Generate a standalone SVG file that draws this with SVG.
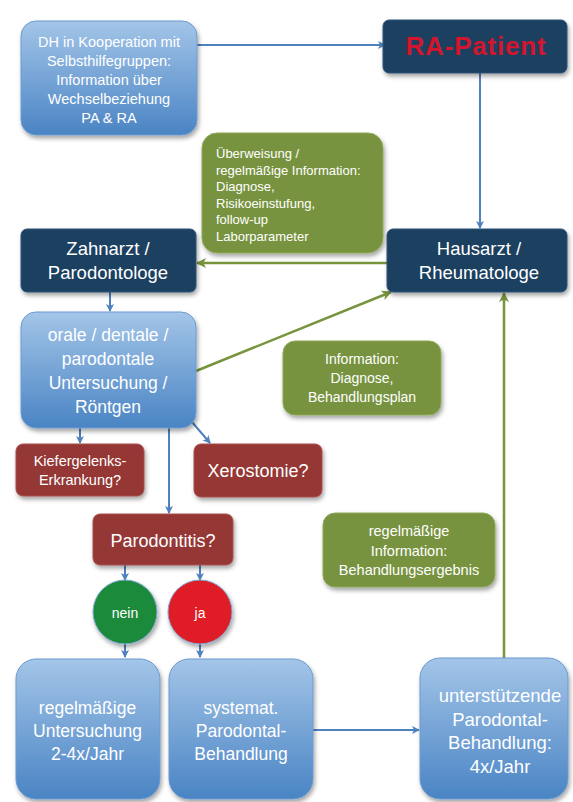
<svg xmlns="http://www.w3.org/2000/svg" width="573" height="802" viewBox="0 0 573 802">
<defs>
<linearGradient id="gBlue" x1="0" y1="0" x2="0" y2="1">
<stop offset="0" stop-color="#A3C5E8"/>
<stop offset="1" stop-color="#4A84C4"/>
</linearGradient>
<filter id="sh" x="-20%" y="-20%" width="140%" height="140%">
<feDropShadow dx="1.5" dy="3" stdDeviation="2" flood-color="#000" flood-opacity="0.35"/>
</filter>
<marker id="mB" markerUnits="userSpaceOnUse" markerWidth="10" markerHeight="10" refX="8" refY="5" orient="auto">
<path d="M1,1 L9,5 L1,9 L3,5 z" fill="#4F81BD"/>
</marker>
<marker id="mG" markerUnits="userSpaceOnUse" markerWidth="12" markerHeight="12" refX="10" refY="6" orient="auto">
<path d="M1,1 L11,6 L1,11 L3.5,6 z" fill="#77933C"/>
</marker>
<style>
.blue{fill:url(#gBlue);stroke:#6C9BD0;stroke-width:1;filter:url(#sh)}
.navy{fill:#1E3F60;stroke:#2F5479;stroke-width:1;filter:url(#sh)}
.red{fill:#953735;stroke:#A85050;stroke-width:1;filter:url(#sh)}
.green{fill:#78933F;stroke:#8FA85A;stroke-width:1;filter:url(#sh)}
text{font-family:"Liberation Sans",Arial,sans-serif;fill:#FFFFFF;text-anchor:middle}
.lb{stroke:#4F81BD;stroke-width:2;fill:none;marker-end:url(#mB)}
.lg{stroke:#77933C;stroke-width:2.5;fill:none;marker-end:url(#mG)}
</style>
</defs>

<g id="connectors">
<line class="lb" x1="197" y1="45" x2="385" y2="45"/>
<line class="lb" x1="480" y1="73" x2="480" y2="228"/>
<line class="lg" x1="387" y1="263" x2="197" y2="263"/>
<line class="lb" x1="110" y1="292" x2="110" y2="311"/>
<line class="lg" x1="196" y1="371" x2="391" y2="292"/>
<line class="lb" x1="80" y1="428" x2="80" y2="443"/>
<line class="lb" x1="192" y1="422" x2="210" y2="443"/>
<line class="lb" x1="169" y1="428" x2="169" y2="513"/>
<line class="lb" x1="125" y1="565" x2="125" y2="580"/>
<line class="lb" x1="200" y1="565" x2="200" y2="580"/>
<line class="lb" x1="125" y1="644" x2="125" y2="657"/>
<line class="lb" x1="200" y1="644" x2="200" y2="657"/>
<line class="lb" x1="313" y1="730" x2="419" y2="730"/>
<line class="lg" x1="504" y1="658" x2="504" y2="293"/>
</g>

<g id="dh-info">
<rect class="blue" x="21" y="21" width="176" height="114" rx="15"/>
<text font-size="14.5" x="109" y="47">DH in Kooperation mit</text>
<text font-size="14.5" x="109" y="66">Selbsthilfegruppen:</text>
<text font-size="14.5" x="109" y="85">Information über</text>
<text font-size="14.5" x="109" y="104">Wechselbeziehung</text>
<text font-size="14.5" x="109" y="123">PA &amp; RA</text>
</g>

<g id="ra-patient">
<rect class="navy" x="383" y="20" width="184" height="53" rx="6"/>
<text x="476" y="55" font-size="26" font-weight="bold" letter-spacing="0.8" style="fill:#D3152D">RA-Patient</text>
</g>

<g id="info-ueberweisung">
<rect class="green" x="202" y="133" width="181" height="120" rx="15"/>
<text font-size="13" x="216" y="158" style="text-anchor:start">Überweisung /</text>
<text font-size="13" x="216" y="175" style="text-anchor:start">regelmäßige Information:</text>
<text font-size="13" x="216" y="191" style="text-anchor:start">Diagnose,</text>
<text font-size="13" x="216" y="208" style="text-anchor:start">Risikoeinstufung,</text>
<text font-size="13" x="216" y="224" style="text-anchor:start">follow-up</text>
<text font-size="13" x="216" y="241" style="text-anchor:start">Laborparameter</text>
</g>

<g id="zahnarzt">
<rect class="navy" x="21" y="229" width="175" height="63" rx="6"/>
<text font-size="18.5" x="108" y="255">Zahnarzt /</text>
<text font-size="18.5" x="108" y="279">Parodontologe</text>
</g>

<g id="hausarzt">
<rect class="navy" x="387" y="229" width="180" height="63" rx="6"/>
<text font-size="18.5" x="479" y="255">Hausarzt /</text>
<text font-size="18.5" x="479" y="279">Rheumatologe</text>
</g>

<g id="untersuchung">
<rect class="blue" x="21" y="312" width="175" height="116" rx="15"/>
<text font-size="17.5" x="108" y="341">orale / dentale /</text>
<text font-size="17.5" x="108" y="365">parodontale</text>
<text font-size="17.5" x="108" y="389">Untersuchung /</text>
<text font-size="17.5" x="108" y="413">Röntgen</text>
</g>

<g id="info-diagnose">
<rect class="green" x="283" y="341" width="158" height="74" rx="12"/>
<text font-size="14" x="362" y="364">Information:</text>
<text font-size="14" x="362" y="383">Diagnose,</text>
<text font-size="14" x="362" y="402">Behandlungsplan</text>
</g>

<g id="kiefergelenk">
<rect class="red" x="16" y="444" width="128" height="52" rx="7"/>
<text font-size="14.5" x="80" y="466">Kiefergelenks-</text>
<text font-size="14.5" x="80" y="485">Erkrankung?</text>
</g>

<g id="xerostomie">
<rect class="red" x="194" y="444" width="128" height="53" rx="7"/>
<text font-size="18" x="258" y="477">Xerostomie?</text>
</g>

<g id="parodontitis">
<rect class="red" x="93" y="514" width="140" height="51" rx="7"/>
<text font-size="18" x="163" y="547">Parodontitis?</text>
</g>

<g id="info-ergebnis">
<rect class="green" x="323" y="513" width="172" height="74" rx="12"/>
<text font-size="14.5" x="409" y="536">regelmäßige</text>
<text font-size="14.5" x="409" y="556">Information:</text>
<text font-size="14.5" x="409" y="575">Behandlungsergebnis</text>
</g>

<g id="nein">
<circle cx="125" cy="612" r="32" fill="#1C8A3B" stroke="#7FA9D6" stroke-width="1" filter="url(#sh)"/>
<text font-size="14" x="125" y="618">nein</text>
</g>

<g id="ja">
<circle cx="200" cy="612" r="32" fill="#E01C25" stroke="#7FA9D6" stroke-width="1" filter="url(#sh)"/>
<text font-size="14" x="200" y="618">ja</text>
</g>

<g id="regelmaessig">
<rect class="blue" x="16" y="659" width="144" height="140" rx="20"/>
<text font-size="17.5" x="87.5" y="714">regelmäßige</text>
<text font-size="17.5" x="87.5" y="737">Untersuchung</text>
<text font-size="17.5" x="87.5" y="760">2-4x/Jahr</text>
</g>

<g id="systematisch">
<rect class="blue" x="169" y="659" width="144" height="140" rx="20"/>
<text font-size="17.5" x="241" y="714">systemat.</text>
<text font-size="17.5" x="241" y="737">Parodontal-</text>
<text font-size="17.5" x="241" y="760">Behandlung</text>
</g>

<g id="unterstuetzend">
<rect class="blue" x="420" y="658" width="148" height="141" rx="20"/>
<text font-size="18.5" x="500" y="702">unterstützende</text>
<text font-size="18.5" x="500" y="726">Parodontal-</text>
<text font-size="18.5" x="500" y="749">Behandlung:</text>
<text font-size="18.5" x="500" y="773">4x/Jahr</text>
</g>
</svg>
